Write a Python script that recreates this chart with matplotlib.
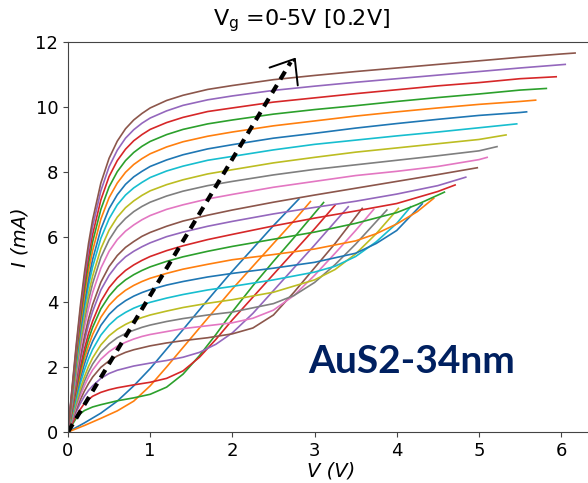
import matplotlib.pyplot as plt

# shared drain-voltage grid (V) for the saturating part of the curves
v_grid = [0, 0.05, 0.1, 0.15, 0.2, 0.25, 0.3, 0.4, 0.5, 0.6, 0.7, 0.8, 0.9, 1.0,
          1.2, 1.4, 1.7, 2.0, 2.5, 3.0, 3.5, 4.0, 4.5, 5.0, 5.5, 6.0]

# Vg = 0.0 ... 1.0 V
v00 = [0, 0.2, 0.4, 0.6, 0.8, 1.0, 1.2, 1.4, 1.6, 1.8, 2.0, 2.25, 2.5, 2.81]
i00 = [0, 0.28, 0.58, 0.95, 1.42, 1.95, 2.55, 3.15, 3.76, 4.36, 4.95, 5.65, 6.35, 7.17]
v01 = [0, 0.2, 0.4, 0.6, 0.8, 1.0, 1.2, 1.4, 1.6, 1.8, 2.0, 2.25, 2.5, 2.75, 2.95]
i01 = [0, 0.2, 0.42, 0.65, 0.95, 1.42, 2.0, 2.6, 3.2, 3.8, 4.4, 5.1, 5.8, 6.5, 7.09]
v02 = [0, 0.05, 0.1, 0.15, 0.2, 0.3, 0.4, 0.5, 0.6, 0.8, 1.0, 1.2, 1.4, 1.6, 1.8, 2.0, 2.25, 2.5, 2.75, 3.11]
i02 = [0, 0.22, 0.42, 0.56, 0.66, 0.77, 0.84, 0.9, 0.96, 1.05, 1.16, 1.38, 1.78, 2.35, 3.0, 3.7, 4.5, 5.25, 5.98, 7.06]
v03 = [0, 0.05, 0.1, 0.15, 0.2, 0.25, 0.3, 0.4, 0.5, 0.6, 0.8, 1.0, 1.2, 1.4, 1.6, 1.8, 2.0, 2.25, 2.5, 2.75, 3.0, 3.25]
i03 = [0, 0.25, 0.5, 0.7, 0.88, 1.0, 1.1, 1.22, 1.3, 1.36, 1.45, 1.53, 1.65, 1.88, 2.3, 2.85, 3.45, 4.15, 4.85, 5.55, 6.25, 6.98]
v04 = [0, 0.05, 0.1, 0.15, 0.2, 0.25, 0.3, 0.4, 0.5, 0.6, 0.8, 1.0, 1.2, 1.4, 1.6, 1.8, 2.0, 2.25, 2.5, 2.75, 3.0, 3.41]
i04 = [0, 0.33, 0.62, 0.88, 1.1, 1.28, 1.42, 1.65, 1.8, 1.9, 2.03, 2.12, 2.2, 2.3, 2.45, 2.7, 3.05, 3.65, 4.35, 5.05, 5.75, 6.93]
v05 = [0, 0.05, 0.1, 0.15, 0.2, 0.25, 0.3, 0.4, 0.5, 0.6, 0.7, 0.8, 1.0, 1.2, 1.4, 1.7, 2.0, 2.25, 2.5, 2.75, 3.0, 3.25, 3.58]
i05 = [0, 0.36, 0.69, 0.99, 1.26, 1.49, 1.69, 1.99, 2.19, 2.34, 2.45, 2.53, 2.65, 2.74, 2.81, 2.9, 3.02, 3.2, 3.6, 4.3, 5.05, 5.8, 6.88]

# Vg = 1.2 ... 2.4 V: grid up to 2 V, then the upturn to the last point
v06 = v_grid[:18] + [2.25, 2.5, 2.75, 3.0, 3.25, 3.5, 3.72]
i06 = [0, 0.4, 0.77, 1.12, 1.42, 1.69, 1.91, 2.24, 2.47, 2.64, 2.76, 2.86, 2.94, 3.0, 3.09, 3.18, 3.27, 3.36,
       3.5, 3.75, 4.2, 4.82, 5.5, 6.2, 6.85]
v07 = v_grid[:18] + [2.5, 2.75, 3.0, 3.25, 3.5, 3.88]
i07 = [0, 0.44, 0.85, 1.23, 1.56, 1.85, 2.09, 2.46, 2.71, 2.9, 3.03, 3.13, 3.22, 3.29, 3.4, 3.49, 3.6, 3.69,
       3.95, 4.2, 4.6, 5.15, 5.78, 6.83]
v08 = v_grid[:18] + [2.5, 3.0, 3.25, 3.5, 3.75, 4.02]
i08 = [0, 0.48, 0.93, 1.34, 1.7, 2.02, 2.28, 2.68, 2.96, 3.16, 3.31, 3.43, 3.52, 3.6, 3.72, 3.83, 3.96, 4.07,
       4.3, 4.68, 5.0, 5.48, 6.1, 6.88]
v09 = v_grid[:18] + [2.5, 3.0, 3.25, 3.5, 3.75, 4.0, 4.17]
i09 = [0, 0.53, 1.03, 1.5, 1.9, 2.25, 2.54, 2.98, 3.29, 3.52, 3.68, 3.81, 3.91, 3.99, 4.12, 4.23, 4.37, 4.48,
       4.68, 4.92, 5.1, 5.4, 5.85, 6.42, 6.93]
v10 = v_grid[:18] + [2.5, 3.0, 3.5, 3.75, 4.0, 4.31]
i10 = [0, 0.59, 1.14, 1.65, 2.09, 2.48, 2.79, 3.28, 3.62, 3.86, 4.04, 4.18, 4.29, 4.38, 4.52, 4.63, 4.77, 4.88,
       5.04, 5.22, 5.5, 5.8, 6.2, 7.02]
v11 = v_grid[:18] + [2.5, 3.0, 3.5, 3.75, 4.0, 4.25, 4.45]
i11 = [0, 0.63, 1.23, 1.77, 2.25, 2.66, 3.0, 3.53, 3.9, 4.16, 4.36, 4.51, 4.63, 4.73, 4.88, 5.01, 5.16, 5.3,
       5.46, 5.63, 5.88, 6.1, 6.4, 6.78, 7.19]
v12 = v_grid[:18] + [2.5, 3.0, 3.5, 4.0, 4.25, 4.58]
i12 = [0, 0.67, 1.31, 1.9, 2.41, 2.85, 3.22, 3.79, 4.18, 4.47, 4.68, 4.84, 4.97, 5.08, 5.25, 5.39, 5.56, 5.71,
       5.93, 6.15, 6.42, 6.75, 7.0, 7.38]

# Vg = 2.6 ... 5.0 V: v_grid points below the last voltage, then the last point
v_end_hi = [4.71, 4.84, 4.98, 5.10, 5.22, 5.33, 5.46, 5.58, 5.69, 5.82, 5.94, 6.05, 6.17]
i13 = [0, 0.71, 1.39, 2.01, 2.55, 3.03, 3.41, 4.02, 4.44, 4.74, 4.97, 5.14, 5.28, 5.4, 5.58, 5.73, 5.92, 6.08,
       6.34, 6.58, 6.8, 7.03, 7.4, 7.6]
i14 = [0, 0.78, 1.52, 2.2, 2.79, 3.3, 3.71, 4.37, 4.82, 5.15, 5.39, 5.56, 5.7, 5.82, 6.01, 6.15, 6.33, 6.48,
       6.71, 6.91, 7.1, 7.32, 7.58, 7.84]
i15 = [0, 0.82, 1.6, 2.31, 2.94, 3.48, 3.92, 4.61, 5.09, 5.43, 5.68, 5.86, 6.02, 6.14, 6.33, 6.49, 6.67, 6.83,
       7.07, 7.29, 7.5, 7.71, 7.92, 8.13]
i16 = [0, 0.9, 1.75, 2.53, 3.22, 3.8, 4.29, 5.04, 5.56, 5.92, 6.18, 6.37, 6.53, 6.66, 6.85, 6.99, 7.17, 7.31,
       7.53, 7.71, 7.89, 8.02, 8.17, 8.38, 8.45]
i17 = [0, 0.96, 1.87, 2.7, 3.43, 4.06, 4.57, 5.37, 5.91, 6.3, 6.57, 6.78, 6.94, 7.07, 7.26, 7.41, 7.58, 7.71,
       7.91, 8.08, 8.22, 8.36, 8.5, 8.65, 8.78]
i18 = [0, 1.01, 1.96, 2.84, 3.6, 4.26, 4.8, 5.64, 6.21, 6.61, 6.9, 7.11, 7.28, 7.42, 7.61, 7.76, 7.94, 8.07,
       8.28, 8.45, 8.61, 8.74, 8.87, 9.0, 9.14]
i19 = [0, 1.07, 2.08, 3.0, 3.81, 4.51, 5.08, 5.96, 6.56, 6.99, 7.29, 7.51, 7.68, 7.83, 8.03, 8.18, 8.36, 8.48,
       8.68, 8.85, 8.98, 9.11, 9.23, 9.36, 9.48]
i20 = [0, 1.11, 2.18, 3.14, 3.98, 4.71, 5.31, 6.24, 6.87, 7.3, 7.62, 7.85, 8.02, 8.17, 8.37, 8.53, 8.71, 8.84,
       9.04, 9.19, 9.35, 9.49, 9.62, 9.74, 9.83, 9.85]
i21 = [0, 1.17, 2.29, 3.3, 4.18, 4.95, 5.58, 6.55, 7.21, 7.66, 7.99, 8.23, 8.41, 8.56, 8.77, 8.93, 9.1, 9.23,
       9.42, 9.57, 9.72, 9.85, 9.97, 10.08, 10.17, 10.21]
i22 = [0, 1.23, 2.39, 3.46, 4.38, 5.19, 5.85, 6.85, 7.54, 8.01, 8.35, 8.6, 8.79, 8.94, 9.15, 9.31, 9.48, 9.6,
       9.78, 9.92, 10.04, 10.17, 10.29, 10.4, 10.52, 10.57]
i23 = [0, 1.28, 2.49, 3.6, 4.56, 5.4, 6.08, 7.14, 7.86, 8.35, 8.7, 8.96, 9.15, 9.31, 9.52, 9.68, 9.86, 9.97,
       10.15, 10.28, 10.41, 10.53, 10.65, 10.75, 10.87, 10.93]
i24 = [0, 1.33, 2.59, 3.74, 4.75, 5.62, 6.32, 7.42, 8.16, 8.67, 9.04, 9.3, 9.5, 9.66, 9.88, 10.05, 10.22, 10.34,
       10.51, 10.64, 10.76, 10.87, 10.98, 11.09, 11.2, 11.3, 11.31]
i25 = [0, 1.37, 2.67, 3.87, 4.9, 5.8, 6.53, 7.66, 8.42, 8.95, 9.33, 9.6, 9.8, 9.97, 10.2, 10.36, 10.54, 10.66,
       10.84, 10.97, 11.09, 11.2, 11.31, 11.42, 11.53, 11.63, 11.66]

# dashed trend arrow and sample label
trend_v = [0, 2.71]
trend_i = [0, 11.38]
arrow_tip = (2.77, 11.52)
arrow_tail = (2.745, 11.42)
sample_label = "AuS2-34nm"
label_xy = (2.92, 1.82)

low_curves = [(v00, i00), (v01, i01), (v02, i02), (v03, i03), (v04, i04), (v05, i05), (v06, i06),
              (v07, i07), (v08, i08), (v09, i09), (v10, i10), (v11, i11), (v12, i12)]
hi_currents = [i13, i14, i15, i16, i17, i18, i19, i20, i21, i22, i23, i24, i25]
hi_curves = [([v for v in v_grid if v < ve] + [ve], cur) for ve, cur in zip(v_end_hi, hi_currents)]

fig = plt.figure(figsize=(5.88, 4.83), dpi=100)
ax = fig.add_axes([0.1156, 0.1056, 0.8946, 0.8075])

for v, cur in low_curves + hi_curves:
    ax.plot(v, cur, lw=1.2)

ax.plot(trend_v, trend_i, color="k", lw=3, linestyle=(0, (2.2, 1.6)))
ax.annotate("", xy=arrow_tip, xytext=arrow_tail,
            arrowprops=dict(arrowstyle="->,head_length=0.75,head_width=0.6", lw=1.4, color="k",
                            shrinkA=0, shrinkB=0, mutation_scale=20))

ax.text(label_xy[0], label_xy[1], sample_label, fontsize=28, fontweight="bold",
        family="Lato", color="#002060", va="baseline", ha="left")

ax.set_xlim(0, 6.4)
ax.set_ylim(0, 12)
ax.set_xticks(range(0, 7))
ax.set_yticks(range(0, 13, 2))
ax.tick_params(labelsize=13, color="#444444")
for side in ["left", "bottom", "top", "right"]:
    ax.spines[side].set_color("#444444")
ax.set_xlabel("V (V)", fontsize=14, fontstyle="italic", labelpad=1)
ax.set_ylabel("I (mA)", fontsize=14, fontstyle="italic", labelpad=4)

fig.text(0.512, 0.948, r"V$_{\rm g}$ =0-5V [0.2V]", fontsize=16, ha="center", va="baseline")

fig.savefig("out.png", dpi=100)
